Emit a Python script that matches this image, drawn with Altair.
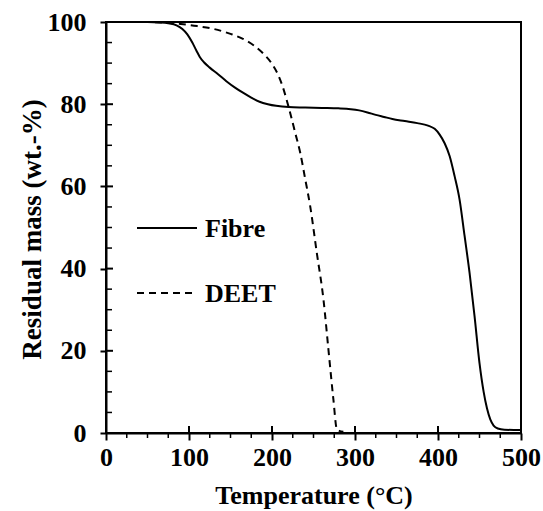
import altair as alt
import pandas as pd

# ---- data ----
fibre_temp = [30, 50, 65, 75, 85, 92, 98, 104, 109, 113, 118, 125, 135, 145, 155, 165, 175, 185, 195, 205,
              220, 240, 260, 280, 295, 305, 315, 325, 335, 345, 360, 375, 388, 396, 402, 408, 414, 420, 426,
              432, 438, 444, 450, 455, 459, 463, 467, 472, 480, 500]
fibre_mass = [100, 100, 99.9, 99.7, 99.2, 98.3, 97.0, 95.0, 93.0, 91.5, 90.2, 88.9, 87.3, 85.6, 84.1, 82.8,
              81.6, 80.6, 80.0, 79.6, 79.3, 79.2, 79.1, 79.0, 78.8, 78.5, 78.0, 77.4, 76.9, 76.4, 75.9, 75.4,
              74.8, 74.0, 72.6, 70.5, 67.4, 62.5, 56.8, 48.0, 39.0, 28.5, 17.0, 10.0, 6.0, 3.3, 1.8, 1.1, 0.8, 0.7]

deet_temp = [30, 60, 90, 110, 130, 150, 165, 180, 190, 200, 207, 213, 218, 222, 228, 234, 240, 246, 254,
             262, 268, 274, 278, 281, 286]
deet_mass = [100, 99.95, 99.5, 99.0, 98.3, 97.1, 95.9, 94.0, 92.2, 89.8, 87.3, 84.2, 80.8, 77.8, 73.0, 68.2,
             61.8, 55.2, 43.8, 32.5, 20.3, 8.1, 1.0, 0.5, 0.3]

x_ticks = [0, 100, 200, 300, 400, 500]
y_ticks = [0, 20, 40, 60, 80, 100]
x_minor = [25, 50, 75, 125, 150, 175, 225, 250, 275, 325, 350, 375, 425, 450, 475]
y_minor = [5, 10, 15, 25, 30, 35, 45, 50, 55, 65, 70, 75, 85, 90, 95]
legend_labels = ["Fibre", "DEET"]

# ---- styling ----
FONT = "Liberation Serif"
W, H = 415, 411
TICK_FS = 26
TITLE_FS = 26
YTITLE_FS = 27

fibre = pd.DataFrame({"t": fibre_temp, "m": fibre_mass})
deet = pd.DataFrame({"t": deet_temp, "m": deet_mass})

xscale = alt.Scale(domain=[0, 500], nice=False, zero=False)
yscale = alt.Scale(domain=[0, 100], nice=False, zero=False)

xaxis = alt.Axis(
    values=x_ticks, format="d", grid=False,
    domainColor="black", domainWidth=2,
    tickColor="black", tickWidth=2, tickSize=7,
    labelFont=FONT, labelFontSize=TICK_FS, labelFontWeight="bold", labelColor="black",
    labelPadding=25, labelBaseline="alphabetic", labelFlush=False, labelOverlap=False,
    title="Temperature (°C)", titleFont=FONT, titleFontSize=TITLE_FS, titleFontWeight="bold",
    titleColor="black", titleY=70, titleBaseline="alphabetic",
)
yaxis = alt.Axis(
    values=y_ticks, format="d", grid=False,
    domainColor="black", domainWidth=2,
    tickColor="black", tickWidth=2, tickSize=6,
    labelFont=FONT, labelFontSize=TICK_FS, labelFontWeight="bold", labelColor="black",
    labelPadding=14, labelFlush=False, labelOverlap=False,
    title="Residual mass (wt.-%)", titleFont=FONT, titleFontSize=YTITLE_FS, titleFontWeight="bold",
    titleColor="black", titleAngle=270, titleX=-66, titleY=207, titleBaseline="alphabetic",
)

X = lambda f: alt.X(f, scale=xscale, axis=xaxis)
Y = lambda f: alt.Y(f, scale=yscale, axis=yaxis)

line_fibre = alt.Chart(fibre).mark_line(color="black", strokeWidth=2, interpolate="monotone").encode(
    x=X("t:Q"), y=Y("m:Q"))
line_deet = alt.Chart(deet).mark_line(color="black", strokeWidth=2, strokeDash=[7, 5],
                                      interpolate="monotone").encode(x=X("t:Q"), y=Y("m:Q"))

# minor ticks and inward halves of major ticks
xminor = alt.Chart(pd.DataFrame({"t": x_minor})).mark_rule(color="black", strokeWidth=1.5).encode(
    x=X("t:Q"), y=alt.value(H), y2=alt.value(H + 5))
xmajor_in = alt.Chart(pd.DataFrame({"t": x_ticks})).mark_rule(color="black", strokeWidth=2).encode(
    x=X("t:Q"), y=alt.value(H - 7), y2=alt.value(H))
yminor = alt.Chart(pd.DataFrame({"m": y_minor})).mark_rule(color="black", strokeWidth=1.5).encode(
    y=Y("m:Q"), x=alt.value(0), x2=alt.value(6))
ymajor_in = alt.Chart(pd.DataFrame({"m": y_ticks})).mark_rule(color="black", strokeWidth=2).encode(
    y=Y("m:Q"), x=alt.value(0), x2=alt.value(7))

# legend
leg_fibre_line = alt.Chart(pd.DataFrame({"k": [legend_labels[0]]})).mark_rule(
    color="black", strokeWidth=2).encode(x=alt.value(31), x2=alt.value(91), y=alt.value(206))
leg_deet_line = alt.Chart(pd.DataFrame({"k": [legend_labels[1]]})).mark_rule(
    color="black", strokeWidth=2, strokeDash=[7, 5]).encode(x=alt.value(31), x2=alt.value(88), y=alt.value(271))
leg_fibre_text = alt.Chart(pd.DataFrame({"k": [legend_labels[0]]})).mark_text(
    align="left", baseline="middle", font=FONT, fontSize=TITLE_FS, fontWeight="bold", color="black").encode(
    x=alt.value(99), y=alt.value(207), text="k:N")
leg_deet_text = alt.Chart(pd.DataFrame({"k": [legend_labels[1]]})).mark_text(
    align="left", baseline="middle", font=FONT, fontSize=TITLE_FS, fontWeight="bold", color="black").encode(
    x=alt.value(99), y=alt.value(272), text="k:N")

chart = alt.layer(
    line_fibre, line_deet, xminor, xmajor_in, yminor, ymajor_in,
    leg_fibre_line, leg_deet_line, leg_fibre_text, leg_deet_text,
).properties(
    width=W, height=H,
    padding={"left": 106, "top": 22, "right": 22, "bottom": 78},
    autosize=alt.AutoSizeParams(type="none"),
    background="white",
).configure_view(stroke="black", strokeWidth=2)

chart.save("out.html", embed_options={"renderer": "svg", "actions": False})
